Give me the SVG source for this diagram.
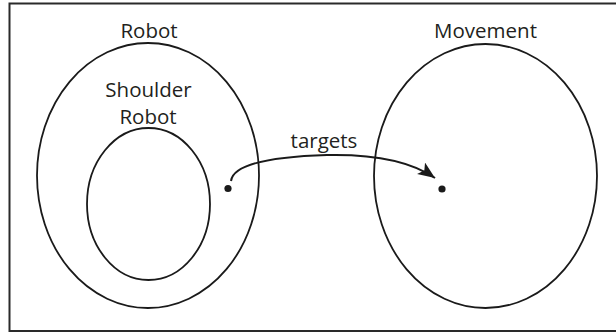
<svg xmlns="http://www.w3.org/2000/svg" width="616" height="333" viewBox="0 0 616 333">
  <style>
    .set { fill: none; stroke: #1a1a1a; stroke-width: 1.8; }
    .lbl { font-family: "Open Sans", "Liberation Sans", sans-serif; font-size: 20.5px; fill: #231f20; text-anchor: middle; }
    .dot { fill: #1a1a1a; }
    .edge { fill: none; stroke: #1a1a1a; stroke-width: 2; }
  </style>
  <defs>
    <marker id="arrowhead" markerUnits="userSpaceOnUse" markerWidth="20" markerHeight="16" refX="17" refY="7" orient="auto">
      <path d="M0,0 L17,7 L0,14 L4,7 z" fill="#1a1a1a"/>
    </marker>
  </defs>

  <!-- outer frame (open on the right) -->
  <path d="M620,3.5 H9.5 V331 H620" fill="none" stroke="#2a2a2a" stroke-width="2"/>

  <g id="robot">
    <ellipse class="set" cx="148" cy="175.5" rx="111" ry="132.5"/>
    <text class="lbl" x="149" y="37.5">Robot</text>
  </g>

  <g id="shoulder-robot">
    <ellipse class="set" cx="148.5" cy="204" rx="61.5" ry="76"/>
    <text class="lbl" x="148.5" y="97">Shoulder</text>
    <text class="lbl" x="148" y="124">Robot</text>
  </g>

  <g id="movement">
    <ellipse class="set" cx="485.5" cy="176" rx="111.5" ry="132"/>
    <text class="lbl" x="485.5" y="37.5">Movement</text>
  </g>

  <g id="element-a">
    <circle class="dot" cx="228" cy="188.5" r="3.6"/>
  </g>

  <g id="element-b">
    <circle class="dot" cx="442" cy="189" r="3.6"/>
  </g>

  <g id="connectors">
    <path class="edge" d="M231,181 C233,166 262,157 327,155 C375,154 412,162 435,178" marker-end="url(#arrowhead)"/>
    <text class="lbl" x="324" y="148">targets</text>
  </g>
</svg>
